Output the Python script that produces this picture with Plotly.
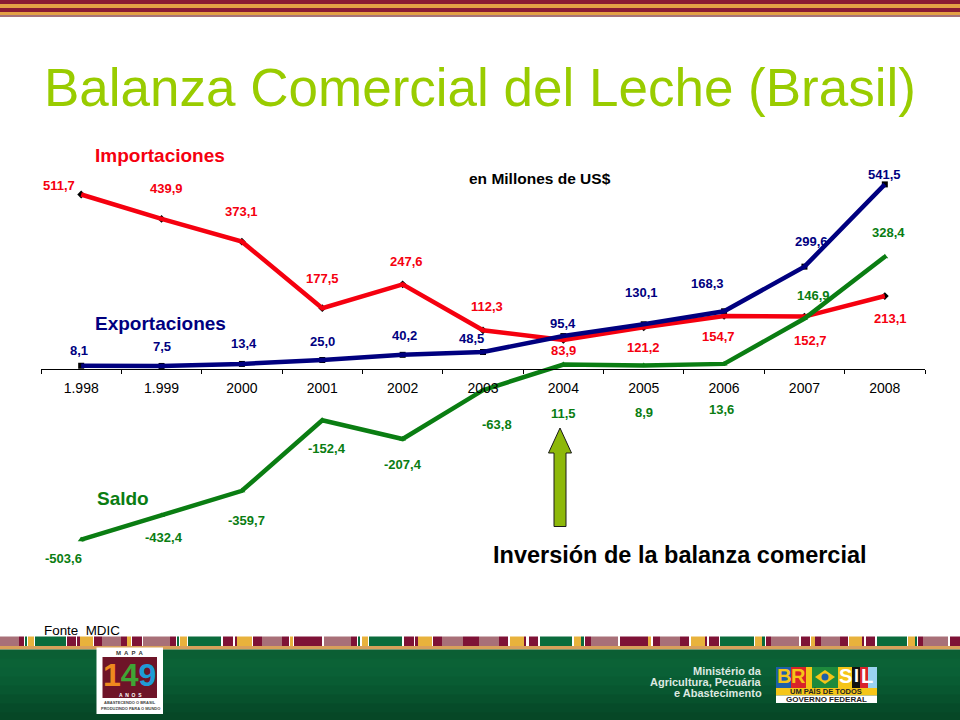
import plotly.graph_objects as go

# chart data (millones de US$)
years = ["1.998", "1.999", "2000", "2001", "2002", "2003", "2004", "2005", "2006", "2007", "2008"]
exportaciones = [8.1, 7.5, 13.4, 25.0, 40.2, 48.5, 95.4, 130.1, 168.3, 299.6, 541.5]
importaciones = [511.7, 439.9, 373.1, 177.5, 247.6, 112.3, 83.9, 121.2, 154.7, 152.7, 213.1]
saldo = [-503.6, -432.4, -359.7, -152.4, -207.4, -63.8, 11.5, 8.9, 13.6, 146.9, 328.4]

# label offsets from each point, in pixels (x right, y up)
exp_shift = [(-2, 15), (0, 19), (2, 20), (0, 19), (2, 19), (-12, 14), (0, 13), (-2, 32), (-17, 28), (7, 25), (0, 10)]
imp_shift = [(-22, 9), (5, 30), (0, 30), (0, 30), (4, 23), (4, 24), (0, -11), (0, -20), (-6, -21), (6, -24), (6, -22)]
sal_shift = [(-18, -19), (2, -22), (5, -30), (5, -28), (0, -25), (14, -34), (0, -49), (0, -47), (-3, -46), (9, 23), (4, 24)]

RED = "#F5000F"
NAVY = "#00007F"
GREEN = "#0A7D12"
LIME = "#99CC00"
FONT = "Liberation Sans"
W, H = 960, 720
ZERO_PX = 368.5
PX_PER_UNIT = 0.34


def fx(px):
    return px / W


def fy(px):
    return 1 - px / H


shapes = []
annotations = []


def rect(x0, y0, x1, y1, color):
    shapes.append(dict(type="rect", xref="paper", yref="paper", x0=fx(x0), x1=fx(x1), y0=fy(y0), y1=fy(y1),
                       fillcolor=color, line=dict(width=0), layer="below"))


def label(text, x, y, size, color, bold=False, anchor="center"):
    if bold:
        text = "<b>" + text + "</b>"
    annotations.append(dict(text=text, x=fx(x), y=fy(y), xref="paper", yref="paper", showarrow=False,
                            xanchor=anchor, yanchor="middle", borderpad=0, borderwidth=0,
                            font=dict(family=FONT, size=size, color=color)))


# top stripes
for y0, y1, c in [(0, 4, "#8A1A33"), (4, 8, "#E3A045"), (8, 12, "#8A1A33"), (12, 15, "#E3A045"), (15, 17, "#A5727A")]:
    rect(0, y0, W, y1, c)

# bottom band
MAROON = "#7E1236"
ROSE = "#A87078"
YEL = "#E8B23C"
DGREEN = "#0A6B3C"
band = [(0, 19, ROSE), (19, 24, MAROON), (25, 27, DGREEN), (28, 34, YEL), (35, 66, DGREEN), (67, 76, MAROON),
        (77, 80, MAROON), (80, 93, YEL), (94, 102, MAROON), (102, 121, ROSE), (121, 127, MAROON), (127, 131, YEL),
        (132, 142, MAROON), (143, 170, ROSE), (170, 176, MAROON), (177, 179, DGREEN), (180, 187, YEL),
        (188, 221, DGREEN), (223, 233, MAROON), (235, 237, MAROON), (237, 252, YEL), (253, 262, MAROON),
        (262, 282, ROSE), (282, 289, MAROON), (290, 293, YEL), (294, 322, MAROON), (324, 351, ROSE),
        (351, 357, MAROON), (358, 360, DGREEN), (362, 368, YEL), (369, 402, DGREEN), (404, 414, MAROON),
        (415, 418, MAROON), (418, 432, YEL), (433, 442, MAROON), (442, 463, ROSE), (463, 479, MAROON),
        (479, 499, ROSE), (499, 508, MAROON), (510, 524, YEL), (524, 526, MAROON), (529, 538, MAROON),
        (540, 572, DGREEN), (574, 581, YEL), (581, 584, DGREEN), (585, 591, MAROON), (591, 618, ROSE),
        (620, 648, MAROON), (648, 651, YEL), (653, 660, MAROON), (660, 680, ROSE), (680, 689, MAROON),
        (691, 705, YEL), (705, 707, MAROON), (709, 719, MAROON), (720, 754, DGREEN), (755, 762, YEL),
        (762, 765, DGREEN), (766, 771, MAROON), (771, 799, ROSE), (801, 810, MAROON), (811, 815, YEL),
        (815, 821, MAROON), (821, 840, ROSE), (840, 848, MAROON), (849, 862, YEL), (862, 864, MAROON),
        (866, 875, MAROON), (877, 907, DGREEN), (908, 915, YEL), (915, 917, DGREEN), (918, 923, MAROON),
        (923, 948, ROSE), (950, 960, MAROON)]
for x0, x1, c in band:
    rect(x0, 636.5, x1, 646, c)
rect(0, 646, W, 649.5, "#D9A05A")

# green footer, stacked strips for the fade
footer = ["#0B5F34", "#0B6236", "#0A6036", "#095C33", "#085730", "#07512C", "#064B29", "#064726"]
for i, c in enumerate(footer):
    rect(0, 649.5 + i * 9, W, 649.5 + (i + 1) * 9 + 1, c)

# MAPA logo
rect(96.5, 647.5, 163, 714, "#FFFFFF")
rect(102.5, 657, 157, 698, "#6E1428")
label("M  A  P  A", 130, 652.5, 6, "#333333", True)
label('<span style="color:#EE8A1E">1</span><span style="color:#3FA535">4</span>'
      '<span style="color:#1E9CD7">9</span>', 129, 674.5, 32, "#FFFFFF", True)
label("A  N  O  S", 130, 695, 5, "#FFFFFF", True)
label("ABASTECENDO O BRASIL", 130, 702.5, 4, "#444444", True)
label("PRODUZINDO PARA O MUNDO", 130, 708.5, 4, "#444444", True)

# ministry text
label("Ministério da", 762, 670.5, 11, "#DDE8E0", True, "right")
label("Agricultura, Pecuária", 762, 682, 11, "#DDE8E0", True, "right")
label("e Abastecimento", 762, 693, 11, "#DDE8E0", True, "right")

# Brasil logo
for x0, x1, c in [(776, 791, "#1F5FA8"), (791, 806, "#D8232A"), (806, 812, "#F5C518"), (812, 838, "#1E8A3C"),
                  (838, 852, "#F5C518"), (852, 860, "#111111"), (860, 868, "#D8232A"), (868, 877, "#9AD3F0")]:
    rect(x0, 667, x1, 688, c)
rect(776, 688, 877, 695.5, "#F5C518")
rect(776, 695.5, 877, 703, "#FFFFFF")
shapes.append(dict(type="path", xref="paper", yref="paper", layer="below", fillcolor="#F5C518", line=dict(width=0),
                   path=f"M {fx(815)} {fy(677)} L {fx(825)} {fy(670)} L {fx(835)} {fy(677)} L {fx(825)} {fy(684)} Z"))
shapes.append(dict(type="circle", xref="paper", yref="paper", layer="below", fillcolor="#1F5FA8", line=dict(width=0),
                   x0=fx(821.5), x1=fx(828.5), y0=fy(680.5), y1=fy(673.5)))
label("B", 783.5, 676, 20, "#F5C518", True)
label("R", 798.5, 676, 20, "#F5C518", True)
label("S", 845, 676, 20, "#FFFFFF", True)
label("I", 856, 676, 18, "#FFFFFF", True)
label("L", 867, 676, 20, "#FFFFFF", True)
label("UM PAÍS DE TODOS", 826, 691.5, 7.5, "#222222", True)
label("GOVERNO FEDERAL", 826, 699.5, 8, "#222222", True)

# arrow
shapes.append(dict(type="path", xref="paper", yref="paper", fillcolor="#8DB80A", line=dict(color="#1A1A1A", width=1),
                   path="M " + " L ".join(f"{fx(x)} {fy(y)}" for x, y in
                                          [(560, 428), (571.5, 453), (566, 453), (566, 526.5), (554, 526.5),
                                           (554, 453), (548.5, 453)]) + " Z"))

# slide texts
label("Balanza Comercial del Leche (Brasil)", 480, 87, 53, LIME)
label("Importaciones", 95, 155.5, 19, RED, True, "left")
label("Exportaciones", 95, 323, 19, NAVY, True, "left")
label("Saldo", 97, 498, 19, GREEN, True, "left")
label("en Millones de US$", 540, 178, 15.5, "#000000", True)
label("Inversión de la balanza comercial", 680, 555, 23.5, "#000000", True)
label("Fonte  MDIC", 44, 630, 13.4, "#000000", False, "left")


def fmt(v):
    return f"{v:.1f}".replace(".", ",")


fig = go.Figure()

series = [
    (importaciones, imp_shift, RED, "diamond", "#000000"),
    (exportaciones, exp_shift, NAVY, "square", "#000000"),
    (saldo, sal_shift, GREEN, "triangle-up", GREEN),
]
# markers first so the thick lines sit on top of them
for vals, shifts, color, symbol, mcolor in series:
    fig.add_trace(go.Scatter(x=years, y=vals, mode="markers", marker=dict(symbol=symbol, size=6, color=mcolor),
                             showlegend=False, hoverinfo="skip"))
for vals, shifts, color, symbol, mcolor in series:
    fig.add_trace(go.Scatter(x=years, y=vals, mode="lines", line=dict(color=color, width=4.5), showlegend=False))
    # category axis: numeric-looking names would be read as positions, so use the index
    for i, (v, (sx, sy)) in enumerate(zip(vals, shifts)):
        annotations.append(dict(text="<b>" + fmt(v) + "</b>", x=i, y=v, xref="x", yref="y", showarrow=False,
                                xshift=sx, yshift=sy, font=dict(family=FONT, size=13, color=color)))

fig.update_layout(
    width=W, height=H, margin=dict(l=0, r=0, t=0, b=0), paper_bgcolor="white", plot_bgcolor="rgba(0,0,0,0)",
    showlegend=False, shapes=shapes, annotations=annotations,
    xaxis=dict(domain=[fx(41), fx(925)], type="category", categoryorder="array", categoryarray=years,
               range=[-0.5, 10.5], anchor="free", position=(H - ZERO_PX) / H, showline=True, linecolor="#000000",
               linewidth=1, ticks="outside", tickson="boundaries", ticklen=4, tickcolor="#000000", showgrid=False,
               zeroline=False, ticklabelstandoff=7, tickfont=dict(family=FONT, size=14, color="#000000")),
    yaxis=dict(domain=[0, 1], range=[-(H - ZERO_PX) / PX_PER_UNIT, ZERO_PX / PX_PER_UNIT], visible=False),
)

# browser default body margin would push the slide 8px down and right
fig.write_html("out.html", config={"displayModeBar": False}, post_script="document.body.style.margin='0';")
